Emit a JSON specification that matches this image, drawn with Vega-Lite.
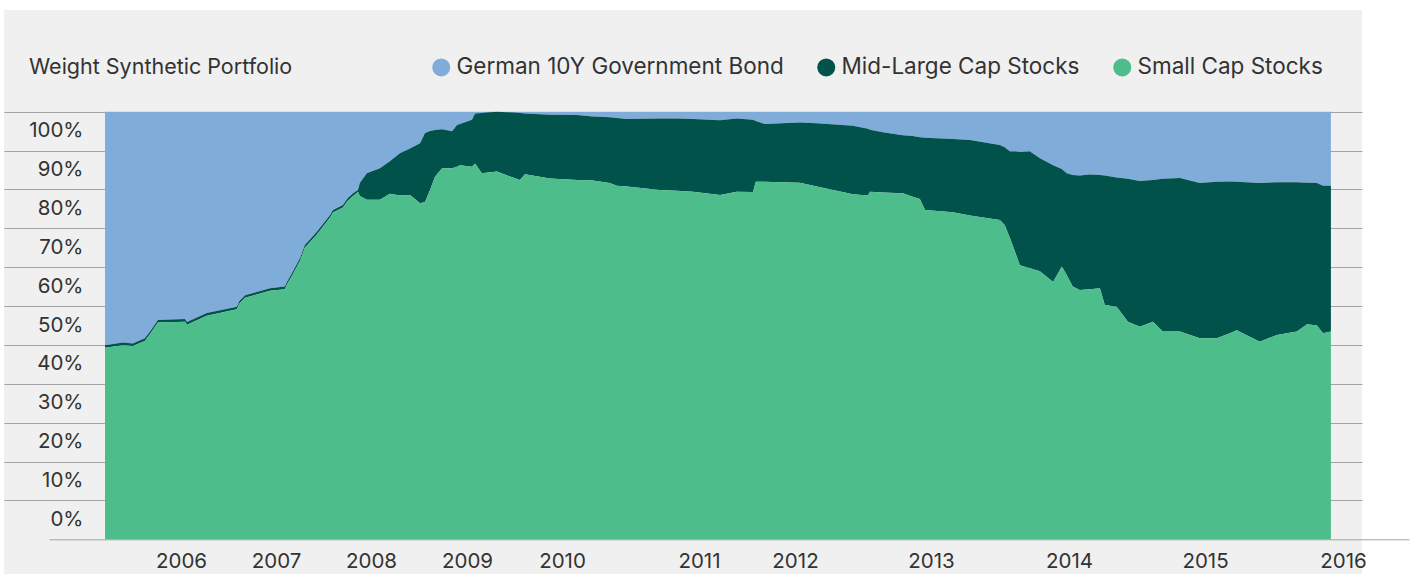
{
  "$schema": "https://vega.github.io/schema/vega-lite/v6.json",
  "autosize": "none",
  "width": 1358,
  "height": 564,
  "padding": {"left": 4, "top": 10, "right": 52, "bottom": 0},
  "background": "white",
  "config": {
    "view": {"fill": "#eff0ef", "stroke": null},
    "font": "Inter"
  },
  "title": {
    "text": "Weight Synthetic Portfolio",
    "anchor": "start",
    "frame": "group",
    "orient": "top",
    "offset": 0,
    "baseline": "middle",
    "dx": 25,
    "dy": 79,
    "font": "Inter",
    "fontSize": 21.5,
    "fontWeight": "normal",
    "color": "#333333"
  },
  "data": {
    "values": [
      {"date": "2005-03-15", "small": 0.448, "mid": 0.006, "bond": 0.546},
      {"date": "2005-05-23", "small": 0.454, "mid": 0.006, "bond": 0.540},
      {"date": "2005-06-30", "small": 0.452, "mid": 0.006, "bond": 0.542},
      {"date": "2005-08-15", "small": 0.464, "mid": 0.006, "bond": 0.530},
      {"date": "2005-09-04", "small": 0.480, "mid": 0.006, "bond": 0.514},
      {"date": "2005-10-04", "small": 0.507, "mid": 0.006, "bond": 0.487},
      {"date": "2006-01-16", "small": 0.509, "mid": 0.006, "bond": 0.485},
      {"date": "2006-01-24", "small": 0.502, "mid": 0.006, "bond": 0.492},
      {"date": "2006-04-10", "small": 0.523, "mid": 0.006, "bond": 0.471},
      {"date": "2006-08-04", "small": 0.538, "mid": 0.006, "bond": 0.456},
      {"date": "2006-08-12", "small": 0.550, "mid": 0.006, "bond": 0.444},
      {"date": "2006-09-04", "small": 0.565, "mid": 0.006, "bond": 0.429},
      {"date": "2006-12-09", "small": 0.581, "mid": 0.006, "bond": 0.413},
      {"date": "2007-02-04", "small": 0.585, "mid": 0.006, "bond": 0.409},
      {"date": "2007-02-12", "small": 0.596, "mid": 0.006, "bond": 0.398},
      {"date": "2007-03-03", "small": 0.616, "mid": 0.006, "bond": 0.378},
      {"date": "2007-04-03", "small": 0.651, "mid": 0.006, "bond": 0.343},
      {"date": "2007-04-22", "small": 0.682, "mid": 0.006, "bond": 0.312},
      {"date": "2007-06-07", "small": 0.713, "mid": 0.006, "bond": 0.281},
      {"date": "2007-07-27", "small": 0.752, "mid": 0.006, "bond": 0.242},
      {"date": "2007-08-08", "small": 0.764, "mid": 0.006, "bond": 0.230},
      {"date": "2007-09-15", "small": 0.776, "mid": 0.006, "bond": 0.218},
      {"date": "2007-10-04", "small": 0.792, "mid": 0.006, "bond": 0.202},
      {"date": "2007-10-24", "small": 0.803, "mid": 0.006, "bond": 0.191},
      {"date": "2007-11-12", "small": 0.812, "mid": 0.005, "bond": 0.183},
      {"date": "2007-11-19", "small": 0.803, "mid": 0.030, "bond": 0.167},
      {"date": "2007-12-16", "small": 0.794, "mid": 0.062, "bond": 0.144},
      {"date": "2008-02-04", "small": 0.794, "mid": 0.074, "bond": 0.132},
      {"date": "2008-03-13", "small": 0.808, "mid": 0.076, "bond": 0.116},
      {"date": "2008-04-20", "small": 0.804, "mid": 0.099, "bond": 0.097},
      {"date": "2008-05-29", "small": 0.805, "mid": 0.109, "bond": 0.086},
      {"date": "2008-07-06", "small": 0.786, "mid": 0.140, "bond": 0.074},
      {"date": "2008-07-25", "small": 0.789, "mid": 0.161, "bond": 0.050},
      {"date": "2008-08-13", "small": 0.817, "mid": 0.138, "bond": 0.045},
      {"date": "2008-09-01", "small": 0.848, "mid": 0.109, "bond": 0.043},
      {"date": "2008-09-28", "small": 0.868, "mid": 0.091, "bond": 0.041},
      {"date": "2008-11-05", "small": 0.868, "mid": 0.086, "bond": 0.046},
      {"date": "2008-11-24", "small": 0.871, "mid": 0.098, "bond": 0.031},
      {"date": "2008-12-05", "small": 0.875, "mid": 0.096, "bond": 0.029},
      {"date": "2009-01-20", "small": 0.871, "mid": 0.110, "bond": 0.019},
      {"date": "2009-02-01", "small": 0.879, "mid": 0.117, "bond": 0.004},
      {"date": "2009-02-27", "small": 0.856, "mid": 0.141, "bond": 0.003},
      {"date": "2009-04-26", "small": 0.860, "mid": 0.140, "bond": 0.000},
      {"date": "2009-07-23", "small": 0.840, "mid": 0.157, "bond": 0.003},
      {"date": "2009-08-12", "small": 0.854, "mid": 0.142, "bond": 0.004},
      {"date": "2009-11-16", "small": 0.844, "mid": 0.149, "bond": 0.007},
      {"date": "2010-02-10", "small": 0.840, "mid": 0.152, "bond": 0.008},
      {"date": "2010-03-24", "small": 0.839, "mid": 0.150, "bond": 0.011},
      {"date": "2010-05-08", "small": 0.833, "mid": 0.154, "bond": 0.013},
      {"date": "2010-05-27", "small": 0.827, "mid": 0.158, "bond": 0.015},
      {"date": "2010-06-23", "small": 0.825, "mid": 0.158, "bond": 0.017},
      {"date": "2010-09-19", "small": 0.817, "mid": 0.167, "bond": 0.016},
      {"date": "2010-11-03", "small": 0.815, "mid": 0.169, "bond": 0.016},
      {"date": "2010-12-16", "small": 0.813, "mid": 0.170, "bond": 0.017},
      {"date": "2011-03-22", "small": 0.805, "mid": 0.175, "bond": 0.020},
      {"date": "2011-05-25", "small": 0.813, "mid": 0.171, "bond": 0.016},
      {"date": "2011-07-25", "small": 0.812, "mid": 0.169, "bond": 0.019},
      {"date": "2011-08-05", "small": 0.836, "mid": 0.142, "bond": 0.022},
      {"date": "2011-09-08", "small": 0.836, "mid": 0.135, "bond": 0.029},
      {"date": "2012-01-14", "small": 0.834, "mid": 0.141, "bond": 0.025},
      {"date": "2012-02-29", "small": 0.825, "mid": 0.148, "bond": 0.027},
      {"date": "2012-06-05", "small": 0.807, "mid": 0.160, "bond": 0.033},
      {"date": "2012-07-15", "small": 0.804, "mid": 0.156, "bond": 0.040},
      {"date": "2012-07-21", "small": 0.813, "mid": 0.145, "bond": 0.042},
      {"date": "2012-08-24", "small": 0.811, "mid": 0.141, "bond": 0.048},
      {"date": "2012-10-17", "small": 0.809, "mid": 0.136, "bond": 0.055},
      {"date": "2012-11-13", "small": 0.801, "mid": 0.142, "bond": 0.057},
      {"date": "2012-12-02", "small": 0.796, "mid": 0.144, "bond": 0.060},
      {"date": "2012-12-16", "small": 0.770, "mid": 0.169, "bond": 0.061},
      {"date": "2013-02-28", "small": 0.765, "mid": 0.171, "bond": 0.064},
      {"date": "2013-04-14", "small": 0.757, "mid": 0.177, "bond": 0.066},
      {"date": "2013-07-02", "small": 0.747, "mid": 0.175, "bond": 0.078},
      {"date": "2013-07-15", "small": 0.735, "mid": 0.182, "bond": 0.083},
      {"date": "2013-07-29", "small": 0.704, "mid": 0.203, "bond": 0.093},
      {"date": "2013-08-11", "small": 0.673, "mid": 0.234, "bond": 0.093},
      {"date": "2013-08-24", "small": 0.641, "mid": 0.265, "bond": 0.094},
      {"date": "2013-09-20", "small": 0.634, "mid": 0.273, "bond": 0.093},
      {"date": "2013-10-16", "small": 0.627, "mid": 0.264, "bond": 0.109},
      {"date": "2013-11-20", "small": 0.602, "mid": 0.273, "bond": 0.125},
      {"date": "2013-12-13", "small": 0.638, "mid": 0.228, "bond": 0.134},
      {"date": "2013-12-26", "small": 0.618, "mid": 0.238, "bond": 0.144},
      {"date": "2014-01-11", "small": 0.591, "mid": 0.261, "bond": 0.148},
      {"date": "2014-01-30", "small": 0.583, "mid": 0.268, "bond": 0.149},
      {"date": "2014-02-26", "small": 0.585, "mid": 0.268, "bond": 0.147},
      {"date": "2014-03-25", "small": 0.587, "mid": 0.265, "bond": 0.148},
      {"date": "2014-04-07", "small": 0.548, "mid": 0.303, "bond": 0.149},
      {"date": "2014-05-09", "small": 0.544, "mid": 0.302, "bond": 0.154},
      {"date": "2014-06-08", "small": 0.509, "mid": 0.334, "bond": 0.157},
      {"date": "2014-07-10", "small": 0.497, "mid": 0.341, "bond": 0.162},
      {"date": "2014-08-14", "small": 0.509, "mid": 0.331, "bond": 0.160},
      {"date": "2014-09-10", "small": 0.486, "mid": 0.357, "bond": 0.157},
      {"date": "2014-10-26", "small": 0.486, "mid": 0.359, "bond": 0.155},
      {"date": "2014-12-18", "small": 0.470, "mid": 0.363, "bond": 0.167},
      {"date": "2015-02-01", "small": 0.470, "mid": 0.366, "bond": 0.164},
      {"date": "2015-03-08", "small": 0.482, "mid": 0.355, "bond": 0.163},
      {"date": "2015-03-26", "small": 0.489, "mid": 0.347, "bond": 0.164},
      {"date": "2015-05-26", "small": 0.462, "mid": 0.371, "bond": 0.167},
      {"date": "2015-07-10", "small": 0.478, "mid": 0.357, "bond": 0.165},
      {"date": "2015-09-01", "small": 0.486, "mid": 0.349, "bond": 0.165},
      {"date": "2015-09-28", "small": 0.503, "mid": 0.331, "bond": 0.166},
      {"date": "2015-10-24", "small": 0.500, "mid": 0.333, "bond": 0.167},
      {"date": "2015-11-09", "small": 0.482, "mid": 0.345, "bond": 0.173},
      {"date": "2015-11-30", "small": 0.486, "mid": 0.341, "bond": 0.173}
    ]
  },
  "transform": [
    {"fold": ["bond", "mid", "small"], "as": ["asset", "weight"]}
  ],
  "mark": {"type": "area", "interpolate": "linear"},
  "encoding": {
    "x": {
      "field": "date",
      "type": "temporal",
      "scale": {
        "type": "utc",
        "nice": false,
        "domainRaw": {"expr": "[utc(2004,11,1), utc(2005,2,15), utc(2006,0,1), utc(2007,0,1), utc(2008,0,1), utc(2009,0,1), utc(2010,0,1), utc(2011,0,1), utc(2012,0,1), utc(2013,0,1), utc(2014,0,1), utc(2015,0,1), utc(2016,0,1), utc(2016,3,1)]"},
        "range": [45, 101, 177, 272, 367, 463, 558, 695, 791, 927, 1065, 1201, 1339, 1405]
      },
      "axis": {
        "title": null,
        "grid": false,
        "ticks": false,
        "domain": true,
        "domainColor": "#a3a3a3",
        "domainWidth": 1,
        "offset": -34.7,
        "values": [
          {"year": 2006, "month": 1, "date": 1, "utc": true},
          {"year": 2007, "month": 1, "date": 1, "utc": true},
          {"year": 2008, "month": 1, "date": 1, "utc": true},
          {"year": 2009, "month": 1, "date": 1, "utc": true},
          {"year": 2010, "month": 1, "date": 1, "utc": true},
          {"year": 2011, "month": 1, "date": 1, "utc": true},
          {"year": 2012, "month": 1, "date": 1, "utc": true},
          {"year": 2013, "month": 1, "date": 1, "utc": true},
          {"year": 2014, "month": 1, "date": 1, "utc": true},
          {"year": 2015, "month": 1, "date": 1, "utc": true},
          {"year": 2016, "month": 1, "date": 1, "utc": true}
        ],
        "labelExpr": "utcFormat(datum.value, '%Y')",
        "labelBaseline": "middle",
        "labelPadding": 22,
        "labelFont": "Inter",
        "labelFontSize": 20.5,
        "labelColor": "#333333",
        "labelOverlap": false,
        "labelFlush": false
      }
    },
    "y": {
      "field": "weight",
      "type": "quantitative",
      "stack": "normalize",
      "scale": {"domain": [0, 1], "nice": false, "zero": true, "range": [529.3, 101.7]},
      "axis": {
        "title": null,
        "domain": false,
        "grid": false,
        "ticks": true,
        "tickSize": 1358,
        "tickColor": "#a3a3a3",
        "tickWidth": 1,
        "offset": -1358,
        "values": [0.0909091, 0.1818182, 0.2727273, 0.3636364, 0.4545455, 0.5454545, 0.6363636, 0.7272727, 0.8181818, 0.9090909, 1],
        "labelExpr": "(round(datum.value * 11) - 1) * 10 + '%'",
        "labelOffset": 19,
        "labelBaseline": "middle",
        "labelPadding": -79,
        "labelFont": "Inter",
        "labelFontSize": 20.5,
        "labelColor": "#333333",
        "labelOverlap": false,
        "labelFlush": false
      }
    },
    "color": {
      "field": "asset",
      "type": "nominal",
      "scale": {
        "domain": ["bond", "mid", "small"],
        "range": ["#80acd9", "#00524a", "#4cbd8b"]
      },
      "legend": {
        "title": null,
        "orient": "none",
        "legendX": 426,
        "legendY": 46,
        "direction": "horizontal",
        "padding": 0,
        "symbolType": "circle",
        "symbolSize": 324,
        "symbolStrokeWidth": 0,
        "symbolOpacity": 1,
        "labelFont": "Inter",
        "labelFontSize": 22.5,
        "labelColor": "#333333",
        "labelOffset": 4,
        "columnPadding": 31,
        "labelLimit": 400,
        "labelExpr": "datum.value == 'bond' ? 'German 10Y Government Bond' : datum.value == 'mid' ? 'Mid-Large Cap Stocks' : 'Small Cap Stocks'"
      }
    },
    "order": {"field": "asset", "sort": "descending"}
  }
}
